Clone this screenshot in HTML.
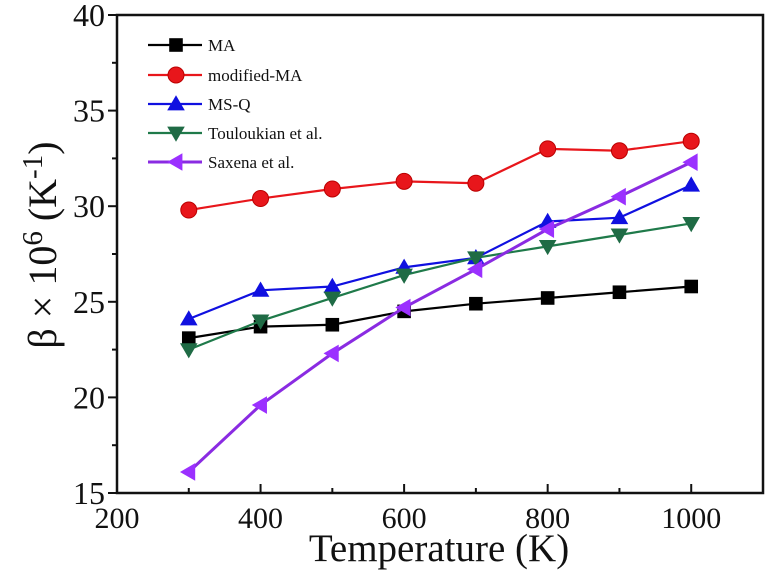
<!DOCTYPE html>
<html><head><meta charset="utf-8"><style>
html,body{margin:0;padding:0;background:#fff;width:768px;height:573px;overflow:hidden}
svg text{font-family:"Liberation Serif",serif;fill:#111}
</style></head><body>
<svg id="chart" width="768" height="573" viewBox="0 0 768 573">
<g id="axes"></g><g id="series"></g><g id="legend"></g>
<text x="439" y="561" font-size="39" text-anchor="middle">Temperature (K)</text>
<text transform="translate(56,245) rotate(-90)" font-size="40" text-anchor="middle">β × 10<tspan dy="-14" font-size="29">6</tspan><tspan dy="14"> (K</tspan><tspan dy="-14" font-size="29">-1</tspan><tspan dy="14">)</tspan></text>
</svg>
<script>
const temps=[300,400,500,600,700,800,900,1000];
const maVals=[23.1,23.7,23.8,24.5,24.9,25.2,25.5,25.8];
const modMaVals=[29.8,30.4,30.9,31.3,31.2,33.0,32.9,33.4];
const msqVals=[24.1,25.6,25.8,26.8,27.3,29.2,29.4,31.1];
const toulVals=[22.5,24.0,25.2,26.4,27.3,27.9,28.5,29.1];
const saxVals=[16.1,19.6,22.3,24.7,26.7,28.8,30.5,32.3];
const xTicks=[200,400,600,800,1000];
const yTicks=[15,20,25,30,35,40];
const seriesNames=["MA","modified-MA","MS-Q","Touloukian et al.","Saxena et al."];

const NS="http://www.w3.org/2000/svg";
const L=117,R=763,T=15,B=493;
const xMin=200,xMax=1100,yMin=15,yMax=40;
function sx(v){return L+(v-xMin)/(xMax-xMin)*(R-L);}
function sy(v){return B-(v-yMin)/(yMax-yMin)*(B-T);}
function mk(tag,attrs,parent){const e=document.createElementNS(NS,tag);for(const k in attrs)e.setAttribute(k,attrs[k]);parent.appendChild(e);return e;}
const axes=document.getElementById('axes');
const frame=mk('rect',{x:L,y:T,width:R-L,height:B-T,fill:'none',stroke:'#111','stroke-width':2.5},axes);


for(let v=xMin;v<=xMax;v+=100){
  const major=xTicks.includes(v);
  const t=mk('line',{x1:sx(v),x2:sx(v),y1:B,y2:B-(major?9:5),stroke:'#111','stroke-width':2},axes);
  
  
}
xTicks.forEach(v=>{
  const t=mk('text',{x:sx(v),y:528,'font-size':30,'text-anchor':'middle'},axes);t.textContent=v;
  
  
});
for(let v=yMin;v<=yMax;v+=2.5){
  const major=yTicks.includes(v);
  const t=mk('line',{x1:L,x2:L-(major?9:5),y1:sy(v),y2:sy(v),stroke:'#111','stroke-width':2},axes);
  
  
}
yTicks.forEach(v=>{
  const t=mk('text',{x:105,y:sy(v)+11,'font-size':32,'text-anchor':'end'},axes);t.textContent=v;
  
  
});
const colors=['#000000','#e8161b','#1010e0','#1f7a4a','#8a2be2'];
const fills=['#000000','#e8161b','#1010e0','#1f6b45','#9b30ff'];
const shapes=['square','circle','up','down','left'];
const allVals=[maVals,modMaVals,msqVals,toulVals,saxVals];
const keys=['ma','modified-ma','ms-q','touloukian','saxena'];
function marker(g,shape,x,y,fill){
  let e;const s=8;
  if(shape==='square')e=mk('rect',{x:x-s*0.85,y:y-s*0.85,width:s*1.7,height:s*1.7,fill},g);
  else if(shape==='circle')e=mk('circle',{cx:x,cy:y,r:s,fill,stroke:'#b00','stroke-width':1},g);
  else if(shape==='up')e=mk('polygon',{points:`${x},${y-s*1.1} ${x-s*1.1},${y+s*0.8} ${x+s*1.1},${y+s*0.8}`,fill},g);
  else if(shape==='down')e=mk('polygon',{points:`${x},${y+s*1.1} ${x-s*1.1},${y-s*0.8} ${x+s*1.1},${y-s*0.8}`,fill},g);
  else e=mk('polygon',{points:`${x-s*1.1},${y} ${x+s*0.8},${y-s*1.1} ${x+s*0.8},${y+s*1.1}`,fill},g);
  return e;
}
const sg=document.getElementById('series');
allVals.forEach((vals,i)=>{
  const g=mk('g',{},sg);
  
  
  const p=mk('polyline',{points:temps.map((t,j)=>sx(t)+','+sy(vals[j])).join(' '),fill:'none',stroke:colors[i],'stroke-width':i===4?3:2.2},g);
  
  
  temps.forEach((t,j)=>{
    const m=marker(g,shapes[i],sx(t),sy(vals[j]),fills[i]);
    
    
  });
});
const lg=document.getElementById('legend');
const rowsY=[45,75,104,133,162];
seriesNames.forEach((n,i)=>{
  const g=mk('g',{},lg);
  
  
  mk('line',{x1:148,x2:202,y1:rowsY[i],y2:rowsY[i],stroke:colors[i],'stroke-width':i===4?3:2.2},g);
  marker(g,shapes[i],176,rowsY[i],fills[i]);
  const t=mk('text',{x:208,y:rowsY[i]+6,'font-size':17},g);t.textContent=n;
});
</script>
</body></html>
